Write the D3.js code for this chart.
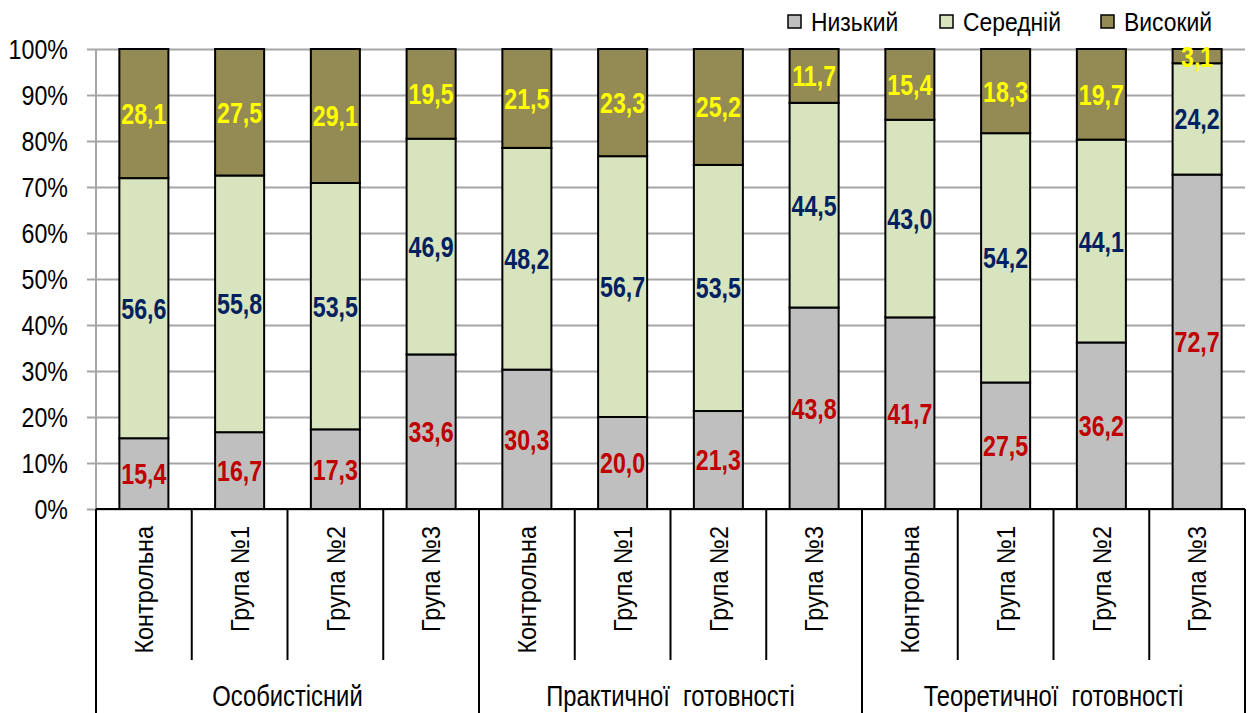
<!DOCTYPE html>
<html>
<head>
<meta charset="utf-8">
<script src="https://cdn.jsdelivr.net/npm/d3@7"></script>
<style>
  html, body { margin: 0; padding: 0; background: #fff; }
  svg { display: block; font-family: "Liberation Sans", Arial, sans-serif; }
</style>
</head>
<body>
<svg id="chart" width="1253" height="713"></svg>
<script>
// Groups of indicators and the study groups within each
const groups = ["Особистісний", "Практичної  готовності", "Теоретичної  готовності"];
const subgroups = ["Контрольна", "Група №1", "Група №2", "Група №3"];

// Levels (stack order bottom → top)
const levels = ["Низький", "Середній", "Високий"];

// Percent values per bar (12 bars: 3 groups × 4 subgroups)
const low    = [15.4, 16.7, 17.3, 33.6, 30.3, 20.0, 21.3, 43.8, 41.7, 27.5, 36.2, 72.7];
const medium = [56.6, 55.8, 53.5, 46.9, 48.2, 56.7, 53.5, 44.5, 43.0, 54.2, 44.1, 24.2];
const high   = [28.1, 27.5, 29.1, 19.5, 21.5, 23.3, 25.2, 11.7, 15.4, 18.3, 19.7, 3.1];

const yTicks = [0, 0.1, 0.2, 0.3, 0.4, 0.5, 0.6, 0.7, 0.8, 0.9, 1.0];

const fillColors  = ["#BFBFBF", "#D7E4BD", "#948A54"];
const labelColors = ["#C00000", "#002060", "#FFFF00"];

// Horizontal condensing applied to text (narrow face look)
const NARROW = 0.82;

const svg = d3.select("#chart");

const margin = { left: 96, right: 1245, top: 49, bottom: 509 };

const rows = low.map((v, i) => ({
  key: i,
  group: groups[Math.floor(i / subgroups.length)],
  sub: subgroups[i % subgroups.length],
  "Низький": v,
  "Середній": medium[i],
  "Високий": high[i]
}));

const x = d3.scaleBand()
  .domain(rows.map(d => d.key))
  .range([margin.left, margin.right])
  .paddingInner(0.488)
  .paddingOuter(0.244);

const y = d3.scaleLinear().domain([0, 1]).range([margin.bottom, margin.top]);

const stack = d3.stack().keys(levels).offset(d3.stackOffsetExpand);
const series = stack(rows);

// Gridlines and y axis
const yAxis = d3.axisLeft(y)
  .tickValues(yTicks)
  .tickFormat(d3.format(".0%"))
  .tickSize(-(margin.right - margin.left));

const gy = svg.append("g")
  .attr("transform", `translate(${margin.left},0)`)
  .call(yAxis);
gy.select(".domain").remove();
gy.selectAll(".tick line")
  .attr("x1", -9)
  .attr("stroke", "#A6A6A6")
  .attr("stroke-width", 2);
gy.selectAll(".tick text")
  .attr("x", null)
  .attr("dy", "0.36em")
  .attr("transform", `translate(-28,0) scale(0.86,1)`)
  .attr("text-anchor", "end")
  .attr("fill", "#000")
  .attr("font-size", 27);
svg.append("line")
  .attr("x1", margin.left).attr("x2", margin.left)
  .attr("y1", margin.top).attr("y2", margin.bottom)
  .attr("stroke", "#A6A6A6").attr("stroke-width", 2);

// Bars
const layer = svg.append("g").selectAll("g")
  .data(series)
  .join("g")
  .attr("fill", (d, i) => fillColors[i]);

layer.selectAll("rect")
  .data(d => d)
  .join("rect")
  .attr("x", d => x(d.data.key))
  .attr("width", x.bandwidth())
  .attr("y", d => y(d[1]))
  .attr("height", d => y(d[0]) - y(d[1]))
  .attr("stroke", "#000")
  .attr("stroke-width", 2);

// Value labels
series.forEach((s, li) => {
  svg.append("g").selectAll("text")
    .data(s)
    .join("text")
    .attr("transform", d =>
      `translate(${x(d.data.key) + x.bandwidth() / 2},${(y(d[0]) + y(d[1])) / 2}) scale(0.8,1)`)
    .attr("dy", "0.36em")
    .attr("text-anchor", "middle")
    .attr("font-weight", "bold")
    .attr("font-size", 29)
    .attr("fill", labelColors[li])
    .text(d => d3.format(".1f")(d.data[s.key]).replace(".", ","));
});

// Category axis: separators and labels
const step = x.step();
const axisG = svg.append("g");
for (let i = 0; i <= rows.length; i++) {
  const xx = margin.left + i * step;
  const isGroupEdge = i % subgroups.length === 0;
  axisG.append("line")
    .attr("x1", xx).attr("x2", xx)
    .attr("y1", margin.bottom)
    .attr("y2", isGroupEdge ? 713 : 660)
    .attr("stroke", "#000")
    .attr("stroke-width", 2);
}
axisG.append("line")
  .attr("x1", margin.left).attr("x2", margin.right)
  .attr("y1", margin.bottom).attr("y2", margin.bottom)
  .attr("stroke", "#000").attr("stroke-width", 2);

axisG.selectAll("text.sub")
  .data(rows)
  .join("text")
  .attr("class", "sub")
  .attr("transform", d => `translate(${x(d.key) + x.bandwidth() / 2},526) rotate(-90) scale(0.9,1)`)
  .attr("dy", "0.36em")
  .attr("text-anchor", "end")
  .attr("font-size", 26)
  .attr("fill", "#000")
  .text(d => d.sub);

axisG.selectAll("text.grp")
  .data(groups)
  .join("text")
  .attr("class", "grp")
  .attr("transform", (d, i) =>
    `translate(${margin.left + (i + 0.5) * step * subgroups.length},696) scale(${NARROW},1)`)
  .attr("dy", "0.36em")
  .attr("text-anchor", "middle")
  .attr("font-size", 29)
  .attr("fill", "#000")
  .style("white-space", "pre")
  .text(d => d);

// Legend
const legendX = [788, 940, 1101];
const legend = svg.append("g").selectAll("g")
  .data(levels)
  .join("g")
  .attr("transform", (d, i) => `translate(${legendX[i]},15)`);
legend.append("rect")
  .attr("width", 13).attr("height", 13)
  .attr("fill", (d, i) => fillColors[i])
  .attr("stroke", "#000").attr("stroke-width", 1.5);
legend.append("text")
  .attr("transform", "translate(23,7) scale(0.88,1)")
  .attr("dy", "0.36em")
  .attr("font-size", 26)
  .attr("fill", "#000")
  .text(d => d);
</script>
</body>
</html>
